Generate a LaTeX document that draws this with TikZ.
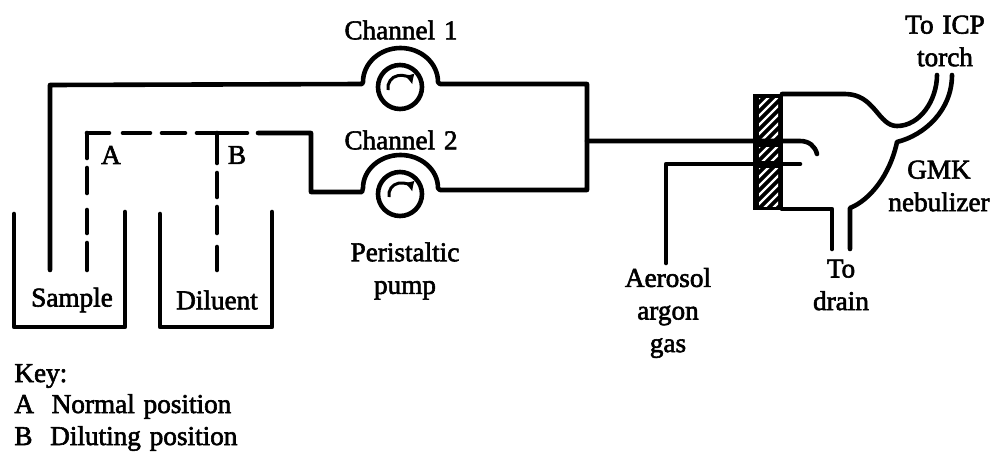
\documentclass[tikz,border=0pt]{standalone}
\usepackage{fontspec}
\setmainfont{Liberation Serif}[FakeBold=2.2,WordSpace=1.3]
\usetikzlibrary{calc}
\usetikzlibrary{arrows.meta}
\tikzset{
	every node/.style={align=center,inner sep=0pt,font=\fontsize{13.6}{16.3}\selectfont},
	pipe/.style={line width=2.3pt,line cap=round,line join=round},
	pump/.style={circle,draw,line width=2.3pt,minimum size=22pt,node contents={}},
	rotor/.style={line width=1.5pt,-{Latex[length=5pt,width=5pt]}},
	hatch/.style={white,line width=1.2pt},
	tag/.style={anchor=base west}
}
\begin{document}
\begin{tikzpicture}[x=0.5pt,y=-0.5pt]
	\useasboundingbox (0,0) rectangle (993,451);
	\node (pumpa) at (400,87) [pump];
	\node (pumpb) at (400,194) [pump];
	\coordinate (sampleend) at (50,270);
	\coordinate (topright) at (587,84);
	\coordinate (lowright) at (587,190);
	\coordinate (join) at (587,141);
	\coordinate (feedend) at (800,141);
	\coordinate (gasend) at (666,263);
	\coordinate (gastip) at (800,164);

	% beakers
	\draw[pipe] (14,214) -- (14,327) -- (125,327) -- (125,212);
	\draw[pipe] (160,214) -- (160,327) -- (272,327) -- (272,212);

	% channel 1 and channel 2
	\draw[pipe] (sampleend) -- (50,85) -- (362,84) -- (363,82) arc[start angle=180,end angle=360,x radius=37.5,y radius=34] -- (440,84) -- (topright) -- (lowright) -- (440,190) -- (438,188) arc[start angle=360,end angle=180,x radius=37.5,y radius=33] -- (362,192) -- (311,192) -- (311,133) -- (258,133);
	\draw[rotor] ($(pumpa)+(-12,3)$) arc[start angle=170,end angle=345,radius=12.5];
	\draw[rotor] ($(pumpb)+(-11,3)$) arc[start angle=170,end angle=345,radius=12];

	% valve lines
	\foreach \xa/\xb in {87/109,123/150,162/185,197/247}
		\draw[pipe] (\xa,133) -- (\xb,133);
	\foreach \ya/\yb in {133/158,168/193,210/233,243/270}
		\draw[pipe] (87,\ya) -- (87,\yb);
	\foreach \ya/\yb in {133/163,173/197,207/233,247/270}
		\draw[pipe] (217,\ya) -- (217,\yb);

	% nebulizer
	\fill (753,94) rectangle (783,210);
	\foreach \ya/\yb in {98/138,147/160,168/206} {
		\begin{scope}
			\clip (759,\ya) rectangle (778,\yb);
			\foreach \d in {0,9,...,140}
				\draw[hatch] (750,\ya+\d) -- (790,\ya+\d-40);
		\end{scope}
	}
	\draw[pipe] (join) -- (feedend) .. controls (809,141) and (815,146) .. (817,154);
	\draw[pipe] (gasend) -- (666,164) -- (gastip);
	\draw[pipe] (782,94) -- (845,94) .. controls (875,94) and (878,126) .. (897,126) .. controls (920,126) and (937,100) .. (937,75);
	\draw[pipe] (952,75) .. controls (952,110) and (925,135) .. (897,142) .. controls (890,175) and (870,200) .. (850,208) -- (850,249);
	\draw[pipe] (782,209) -- (832,209) -- (832,249);

	\node (cha) at (401,30) {Channel 1};
	\node (chb) at (401,140) {Channel 2};
	\node (peri) at (405,271) {Peristaltic\\pump};
	\node (aero) at (668,313) {Aerosol\\argon\\gas};
	\node (drain) at (841,285) {To\\drain};
	\node (icp) at (945,41) {To ICP\\torch};
	\node (gmk) at (939,186) {GMK\\nebulizer};
	\node (samp) at (72,300) {Sample};
	\node (dil) at (217,300) {Diluent};
	\node (a) at (111,155) {A};
	\node (b) at (237,155) {B};
	\node (key) at (14,382) [tag] {Key:};
	\node (keya) at (14,413) [tag] {A\ \ Normal position};
	\node (keyb) at (14,445) [tag] {B\ \ Diluting position};
\end{tikzpicture}
\end{document}
